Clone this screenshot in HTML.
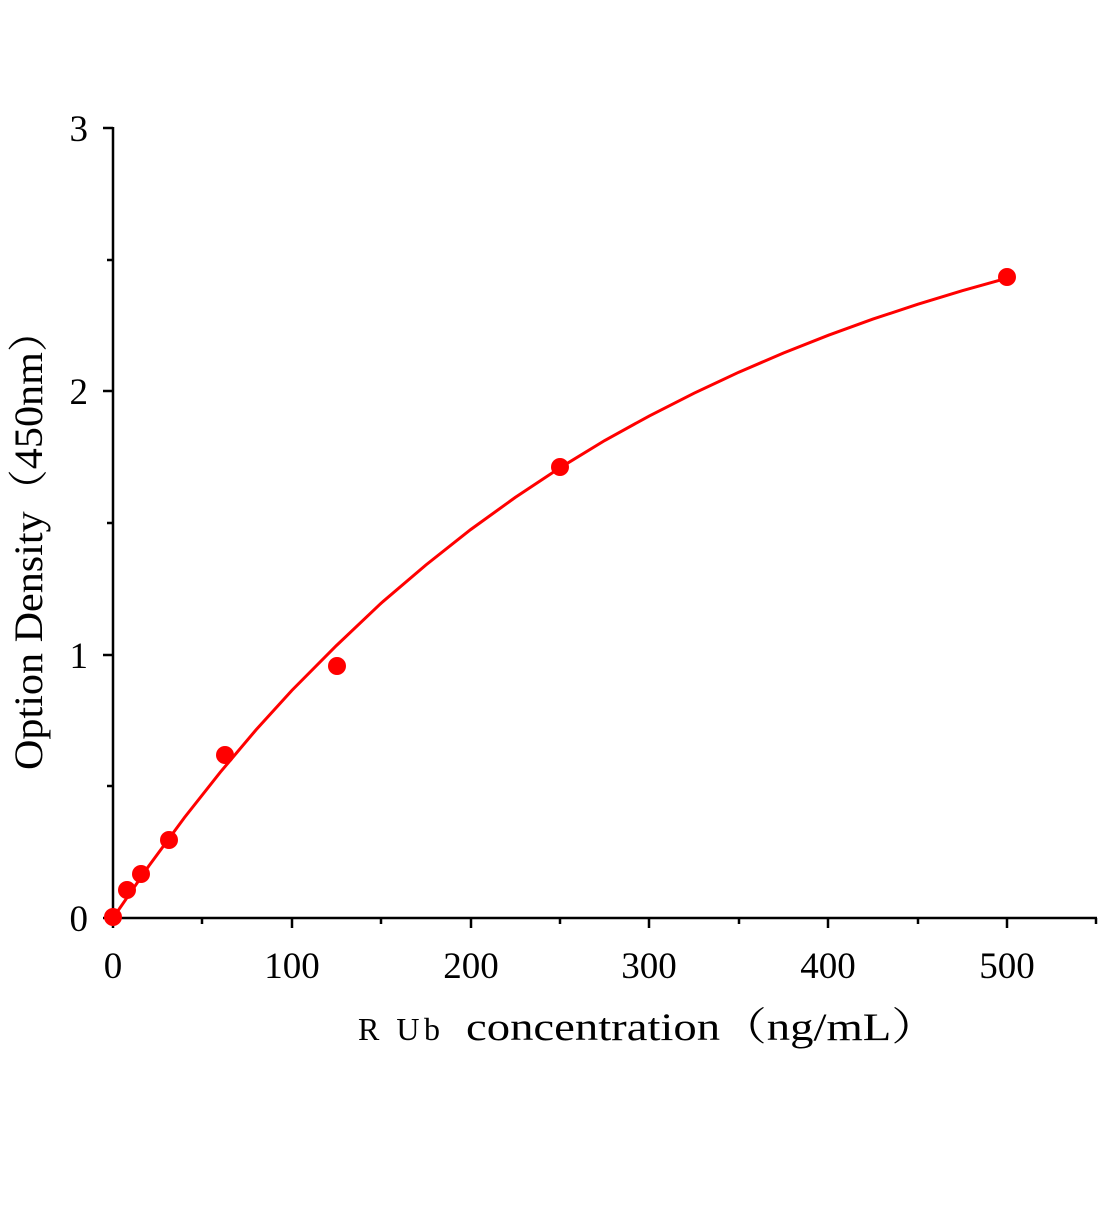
<!DOCTYPE html>
<html><head><style>body{margin:0;background:#fff}</style></head><body>
<svg width="1104" height="1200" xmlns="http://www.w3.org/2000/svg" font-family="Liberation Serif, Noto Serif CJK SC, serif">
<rect width="1104" height="1200" fill="#fff"/>
<g stroke="#000" stroke-width="2.5" fill="none">
<line x1="113" y1="918" x2="1097" y2="918"/>
<line x1="113" y1="918" x2="113" y2="127"/>
<line x1="113" y1="918" x2="113" y2="928"/>
<line x1="292" y1="918" x2="292" y2="928"/>
<line x1="471" y1="918" x2="471" y2="928"/>
<line x1="649" y1="918" x2="649" y2="928"/>
<line x1="828" y1="918" x2="828" y2="928"/>
<line x1="1007" y1="918" x2="1007" y2="928"/>
<line x1="202" y1="918" x2="202" y2="924"/>
<line x1="381" y1="918" x2="381" y2="924"/>
<line x1="560" y1="918" x2="560" y2="924"/>
<line x1="739" y1="918" x2="739" y2="924"/>
<line x1="918" y1="918" x2="918" y2="924"/>
<line x1="1096" y1="918" x2="1096" y2="924"/>
<line x1="103" y1="918" x2="113" y2="918"/>
<line x1="103" y1="655" x2="113" y2="655"/>
<line x1="103" y1="391" x2="113" y2="391"/>
<line x1="103" y1="128" x2="113" y2="128"/>
<line x1="107" y1="786" x2="113" y2="786"/>
<line x1="107" y1="523" x2="113" y2="523"/>
<line x1="107" y1="260" x2="113" y2="260"/>
</g>
<g font-size="37" fill="#000" text-anchor="middle">
<text x="113" y="978">0</text><text x="292" y="978">100</text><text x="471" y="978">200</text>
<text x="649" y="978">300</text><text x="828" y="978">400</text><text x="1007" y="978">500</text>
</g>
<g font-size="37" fill="#000" text-anchor="end">
<text x="88" y="931">0</text><text x="88" y="668">1</text><text x="88" y="404">2</text><text x="88" y="141">3</text>
</g>
<text x="358" y="1040" font-size="32" textLength="82" lengthAdjust="spacing">R Ub</text>
<text x="466" y="1040" font-size="39" textLength="472" lengthAdjust="spacingAndGlyphs">concentration（ng/mL）</text>
<text transform="translate(42,540) rotate(-90)" font-size="40" text-anchor="middle" textLength="460" lengthAdjust="spacingAndGlyphs">Option Density（450nm）</text>
<polyline fill="none" stroke="#f00" stroke-width="3" points="113,918 148.8,866 184.5,817.5 220.3,772.2 256,729.9 291.8,690.5 336.5,645.5 381.2,603.1 425.9,565 470.6,529.6 515.3,497.4 560,467.8 604.7,440.5 649.4,415.9 694.1,393.2 738.8,372.2 783.5,353 828.2,335.3 872.9,319.1 917.6,304.3 962.3,290.7 1007,278.2"/>
<g fill="#f00">
<circle cx="113" cy="917" r="9"/><circle cx="127" cy="890" r="9"/><circle cx="141" cy="874" r="9"/>
<circle cx="169" cy="840" r="9"/><circle cx="225" cy="755" r="9"/><circle cx="337" cy="666" r="9"/>
<circle cx="560" cy="467" r="9"/><circle cx="1007" cy="277" r="9"/>
</g>
</svg>
</body></html>
